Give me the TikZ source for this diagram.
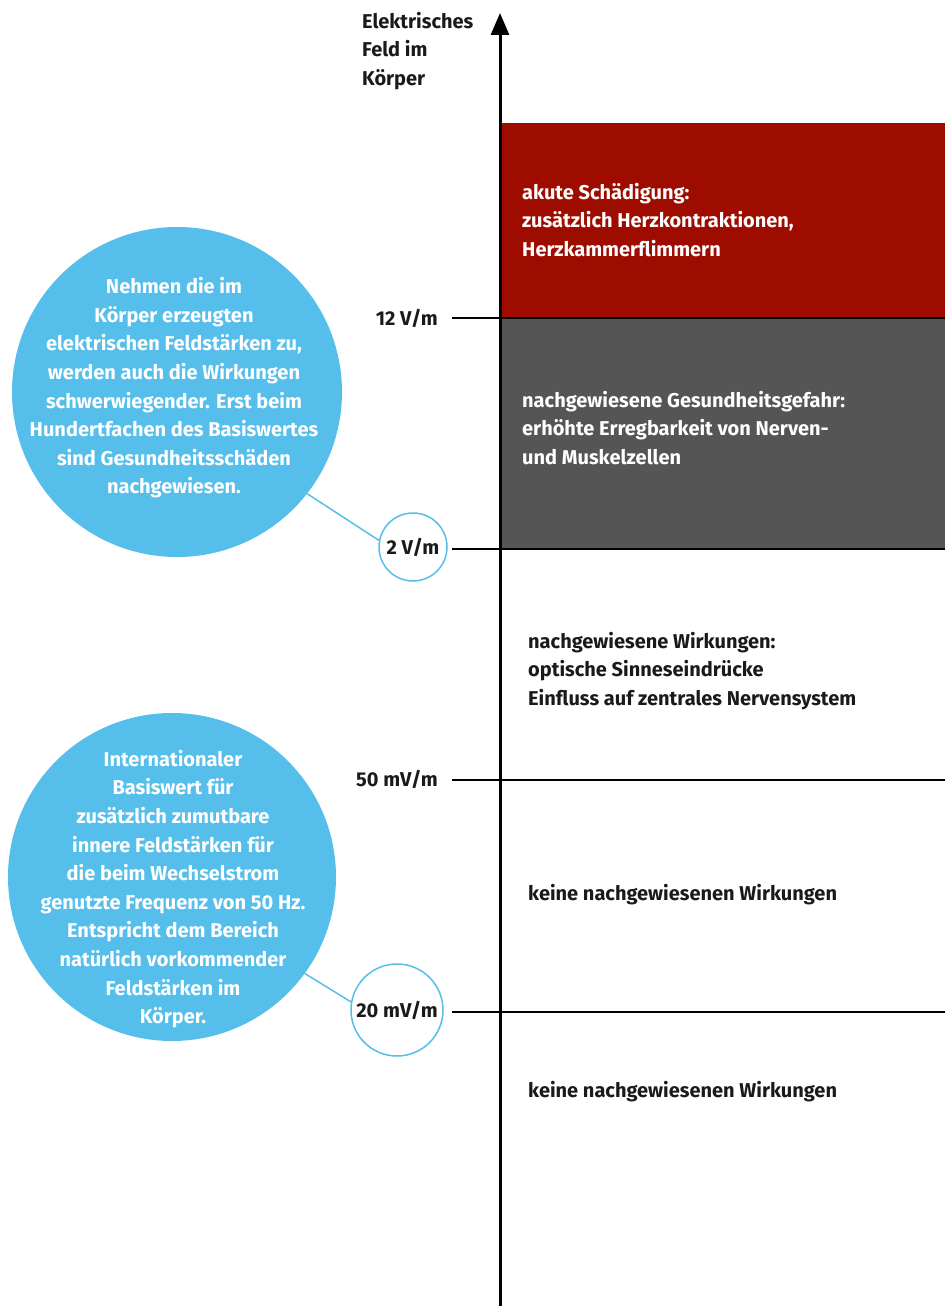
\documentclass[tikz,border=0pt]{standalone}
\usepackage{fontspec}
\setmainfont{Fira Sans}
\usetikzlibrary{arrows.meta}
\definecolor{cblue}{HTML}{56BEEB}
\definecolor{cred}{HTML}{9E0C00}
\definecolor{cgray}{HTML}{555555}
\definecolor{ctext}{HTML}{1A1A1A}
\begin{document}
\begin{tikzpicture}[x=1pt,y=-1pt,
  txt/.style={font=\bfseries\fontsize{20}{28.5}\selectfont, text=ctext, align=left, inner sep=0pt},
  wtxt/.style={txt, text=white},
  ctxt/.style={font=\bfseries\fontsize{20}{28.6}\selectfont, text=white, align=center, inner sep=0pt},
  bigcirc/.style={circle, fill=cblue, inner sep=0pt},
  smallcirc/.style={circle, draw=cblue, line width=1.5pt, fill=white, inner sep=0pt, font=\bfseries\fontsize{20}{24}\selectfont, text=ctext},
  lab/.style={font=\bfseries\fontsize{20}{24}\selectfont, text=ctext, inner sep=0pt},
  band/.style={rectangle, inner sep=0pt, anchor=north west},
  tick/.style={line width=1.8pt, black},
  conn/.style={line width=1.5pt, cblue},
  axis/.style={line width=3pt, black, -{Triangle[length=22pt,width=18pt]}}
]
\useasboundingbox (0,0) rectangle (950,1306);

% bands
\node[band, fill=cred, minimum width=444pt, minimum height=195pt] (red) at (501,123) {};
\node[band, fill=cgray, minimum width=444pt, minimum height=232pt] (gray) at (501,318) {};

% tick coordinates
\coordinate (a12) at (452,318);  \coordinate (b12) at (945,318);
\coordinate (a2) at (452,549);   \coordinate (b2) at (945,549);
\coordinate (a50) at (452,780);  \coordinate (b50) at (945,780);
\coordinate (a20) at (452,1012); \coordinate (b20) at (945,1012);
\draw[tick] (a12) -- (b12);
\draw[tick] (a2) -- (b2);
\draw[tick] (a50) -- (b50);
\draw[tick] (a20) -- (b20);

% axis
\coordinate (axbot) at (500,1306);
\coordinate (axtop) at (500,13);
\draw[axis] (axbot) -- (axtop);

% axis title
\node[txt, anchor=north west] (title) at (362,12) {Elektrisches\\Feld im\\Körper};

% band texts
\node[wtxt, anchor=west] (tred) at (522,220) {akute Schädigung:\\zusätzlich Herzkontraktionen,\\Herzkammerflimmern};
\node[wtxt, anchor=west] (tgray) at (522,428) {nachgewiesene Gesundheitsgefahr:\\erhöhte Erregbarkeit von Nerven-\\und Muskelzellen};
\node[txt, anchor=west] (tw1) at (528,671) {nachgewiesene Wirkungen:\\optische Sinneseindrücke\\Einfluss auf zentrales Nervensystem};
\node[txt, anchor=west] (tw2) at (528,895) {keine nachgewiesenen Wirkungen};
\node[txt, anchor=west] (tw3) at (528,1092) {keine nachgewiesenen Wirkungen};

% value labels
\node[lab, anchor=east] (l12) at (438,318) {12 V/m};
\node[lab, anchor=east] (l50) at (438,779) {50 mV/m};

% big circles
\node[bigcirc, minimum size=330pt] (c1) at (177,392) {};
\node[ctxt] (c1t) at (174,388) {Nehmen die im\\Körper erzeugten\\elektrischen Feldstärken zu,\\werden auch die Wirkungen\\schwerwiegender. Erst beim\\Hundertfachen des Basiswertes\\sind Gesundheitsschäden\\nachgewiesen.};
\node[bigcirc, minimum size=328pt] (c2) at (172,877) {};
\node[ctxt] (c2t) at (173,889) {Internationaler\\Basiswert für\\zusätzlich zumutbare\\innere Feldstärken für\\die beim Wechselstrom\\genutzte Frequenz von 50 Hz.\\Entspricht dem Bereich\\natürlich vorkommender\\Feldstärken im\\Körper.};

% small circles
\node[smallcirc, minimum size=68pt] (s1) at (413,547) {2 V/m};
\node[smallcirc, minimum size=92pt] (s2) at (397,1010) {20 mV/m};

% connectors
\draw[conn] (c1.-38) -- (s1.169);
\draw[conn] (c2.-36) -- (s2.170);
\end{tikzpicture}
\end{document}
